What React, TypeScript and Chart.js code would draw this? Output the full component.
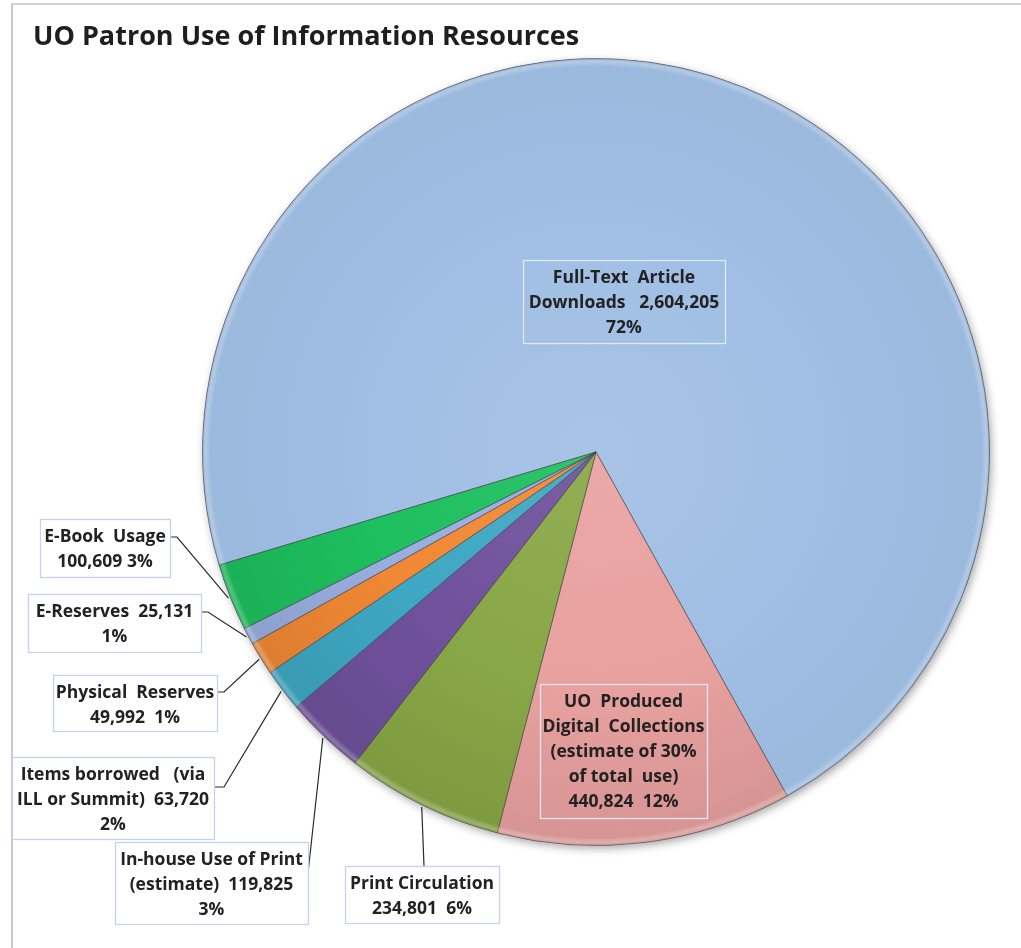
import React, { useEffect, useRef } from 'react';
import { Chart, registerables } from 'chart.js';

Chart.register(...registerables);

// ---------- data ----------
const chartTitle = 'UO Patron Use of Information Resources';
const categories = [
  'Full-Text Article Downloads',
  'UO Produced Digital Collections (estimate of 30% of total use)',
  'Print Circulation',
  'In-house Use of Print (estimate)',
  'Items borrowed (via ILL or Summit)',
  'Physical Reserves',
  'E-Reserves',
  'E-Book Usage',
];
const values = [2604205, 440824, 234801, 119825, 63720, 49992, 25131, 100609];
// label text lines; {v} = value, {p} = percentage
const labelLines = [
  ['Full-Text  Article', 'Downloads   {v}', '{p}'],
  ['UO  Produced', 'Digital  Collections', '(estimate of 30%', 'of total  use)', '{v}  {p}'],
  ['Print Circulation', '{v}  {p}'],
  ['In-house Use of Print', '(estimate)  {v}', '{p}'],
  ['Items borrowed   (via', 'ILL or Summit)  {v}', '{p}'],
  ['Physical  Reserves', '{v}  {p}'],
  ['E-Reserves  {v}', '{p}'],
  ['E-Book  Usage', '{v} {p}'],
];

// ---------- styling / layout ----------
const sliceColors = ['#A0BEE4', '#E8A19F', '#88A746', '#6F519C', '#3EA7C3', '#F08834', '#98AEE0', '#1DBF5E'];
const startRotation = 253.3;
const labelBoxes = [
  { x: 523, y: 260, w: 202, h: 83, inside: true },
  { x: 540, y: 684, w: 167, h: 134, inside: true },
  { x: 345, y: 866, w: 154, h: 57, inside: false },
  { x: 115, y: 842, w: 193, h: 82, inside: false },
  { x: 12, y: 757, w: 202, h: 82, inside: false },
  { x: 53, y: 675, w: 164, h: 56, inside: false },
  { x: 28, y: 594, w: 173, h: 58, inside: false },
  { x: 40, y: 519, w: 130, h: 58, inside: false },
];
const leaderPaths: (number[][] | null)[] = [
  null,
  null,
  [[424, 866]],
  [[308, 873]],
  [[214, 787], [224, 787]],
  [[217, 692], [224, 692]],
  [[201, 612], [208, 612]],
  [[170, 537], [177, 537]],
];

const FONT = '"Open Sans", "DejaVu Sans", sans-serif';

function shade(hex: string, amt: number) {
  const n = parseInt(hex.slice(1), 16);
  let r = n >> 16, g = (n >> 8) & 255, b = n & 255;
  if (amt >= 0) {
    r += (255 - r) * amt; g += (255 - g) * amt; b += (255 - b) * amt;
  } else {
    r *= 1 + amt; g *= 1 + amt; b *= 1 + amt;
  }
  return `rgb(${Math.round(r)},${Math.round(g)},${Math.round(b)})`;
}

const total = values.reduce((a, b) => a + b, 0);

const decorPlugin = {
  id: 'decor',
  beforeDatasetsDraw(chart: any) {
    const ctx = chart.ctx;
    const meta = chart.getDatasetMeta(0);
    const a0 = meta.data[0];
    if (!a0) return;
    const { x, y, outerRadius } = a0.getProps(['x', 'y', 'outerRadius'], true);
    ctx.save();
    ctx.shadowColor = 'rgba(0,0,0,0.35)';
    ctx.shadowBlur = 8;
    ctx.shadowOffsetX = 2;
    ctx.shadowOffsetY = 3;
    ctx.fillStyle = '#9fb8d8';
    ctx.beginPath();
    ctx.arc(x, y, outerRadius, 0, Math.PI * 2);
    ctx.fill();
    ctx.restore();
  },
  afterDatasetsDraw(chart: any) {
    const ctx = chart.ctx;
    const meta = chart.getDatasetMeta(0);
    const a0 = meta.data[0];
    if (!a0) return;
    const { x, y, outerRadius } = a0.getProps(['x', 'y', 'outerRadius'], true);
    // rim bevel
    ctx.save();
    const g = ctx.createRadialGradient(x, y, outerRadius - 8, x, y, outerRadius);
    g.addColorStop(0, 'rgba(255,255,255,0)');
    g.addColorStop(0.6, 'rgba(255,255,255,0.25)');
    g.addColorStop(0.85, 'rgba(255,255,255,0.12)');
    g.addColorStop(1, 'rgba(60,60,60,0.4)');
    ctx.fillStyle = g;
    ctx.beginPath();
    ctx.arc(x, y, outerRadius, 0, Math.PI * 2);
    ctx.arc(x, y, outerRadius - 8, 0, Math.PI * 2, true);
    ctx.fill();
    ctx.restore();
  },
  afterDraw(chart: any) {
    const ctx = chart.ctx;
    ctx.save();
    // frame
    ctx.strokeStyle = '#a6a6a6';
    ctx.lineWidth = 1.2;
    ctx.beginPath();
    ctx.moveTo(12, 960);
    ctx.lineTo(12, 4);
    ctx.lineTo(1030, 4);
    ctx.stroke();
    // title
    ctx.fillStyle = '#1e1e1e';
    ctx.font = `bold 27px ${FONT}`;
    ctx.textAlign = 'left';
    ctx.textBaseline = 'alphabetic';
    ctx.fillText(chartTitle, 33, 45);

    const meta = chart.getDatasetMeta(0);
    // leader lines
    ctx.strokeStyle = '#2a2a2a';
    ctx.lineWidth = 1.2;
    leaderPaths.forEach((path, i) => {
      if (!path) return;
      const arc = meta.data[i];
      const { x, y, startAngle, endAngle, outerRadius } = arc.getProps(
        ['x', 'y', 'startAngle', 'endAngle', 'outerRadius'], true);
      const mid = (startAngle + endAngle) / 2;
      const px = x + Math.cos(mid) * (outerRadius + 2);
      const py = y + Math.sin(mid) * (outerRadius + 2);
      ctx.beginPath();
      ctx.moveTo(path[0][0], path[0][1]);
      for (let k = 1; k < path.length; k++) ctx.lineTo(path[k][0], path[k][1]);
      ctx.lineTo(px, py);
      ctx.stroke();
    });
    // label boxes
    labelBoxes.forEach((b, i) => {
      if (!b.inside) {
        ctx.fillStyle = '#ffffff';
        ctx.fillRect(b.x, b.y, b.w, b.h);
        ctx.strokeStyle = '#c3d3ee';
      } else {
        ctx.strokeStyle = 'rgba(225,235,252,0.95)';
      }
      ctx.lineWidth = 1.3;
      ctx.strokeRect(b.x + 0.5, b.y + 0.5, b.w, b.h);
      const v = values[i].toLocaleString('en-US');
      const p = Math.round((values[i] / total) * 100) + '%';
      ctx.fillStyle = '#222222';
      ctx.font = `bold 17.5px ${FONT}`;
      ctx.textAlign = 'center';
      ctx.textBaseline = 'middle';
      labelLines[i].forEach((line, k) => {
        const t = line.replace('{v}', v).replace('{p}', p);
        ctx.fillText(t, b.x + b.w / 2, b.y + 18 + k * 25);
      });
    });
    ctx.restore();
  },
};

export default function App() {
  const ref = useRef<HTMLCanvasElement>(null);
  useEffect(() => {
    if (!ref.current) return;
    const chart = new Chart(ref.current, {
      type: 'pie',
      data: {
        labels: categories,
        datasets: [
          {
            data: values,
            backgroundColor: (c: any) => {
              const base = sliceColors[c.dataIndex];
              const chart = c.chart;
              const area = chart.chartArea;
              if (!area) return base;
              const cx = (area.left + area.right) / 2;
              const cy = (area.top + area.bottom) / 2;
              const r = Math.min(area.width, area.height) / 2;
              const g = chart.ctx.createRadialGradient(cx, cy, 0, cx, cy, r);
              g.addColorStop(0, shade(base, 0.08));
              g.addColorStop(0.6, base);
              g.addColorStop(1, shade(base, c.dataIndex === 0 ? -0.03 : -0.08));
              return g;
            },
            borderColor: 'rgba(60,60,60,0.55)',
            borderWidth: 1,
          },
        ],
      },
      options: {
        animation: false,
        responsive: false,
        rotation: startRotation,
        layout: { padding: { left: 202, right: 31, top: 58, bottom: 102 } },
        plugins: {
          legend: { display: false },
          tooltip: { enabled: false },
          title: { display: false },
        },
      },
      plugins: [decorPlugin],
    });
    return () => chart.destroy();
  }, []);
  return (
    <div style={{ position: 'absolute', left: 0, top: 0, width: 1021, height: 948, background: '#fff' }}>
      <canvas ref={ref} width={1021} height={948} style={{ display: 'block', width: 1021, height: 948 }} />
    </div>
  );
}
